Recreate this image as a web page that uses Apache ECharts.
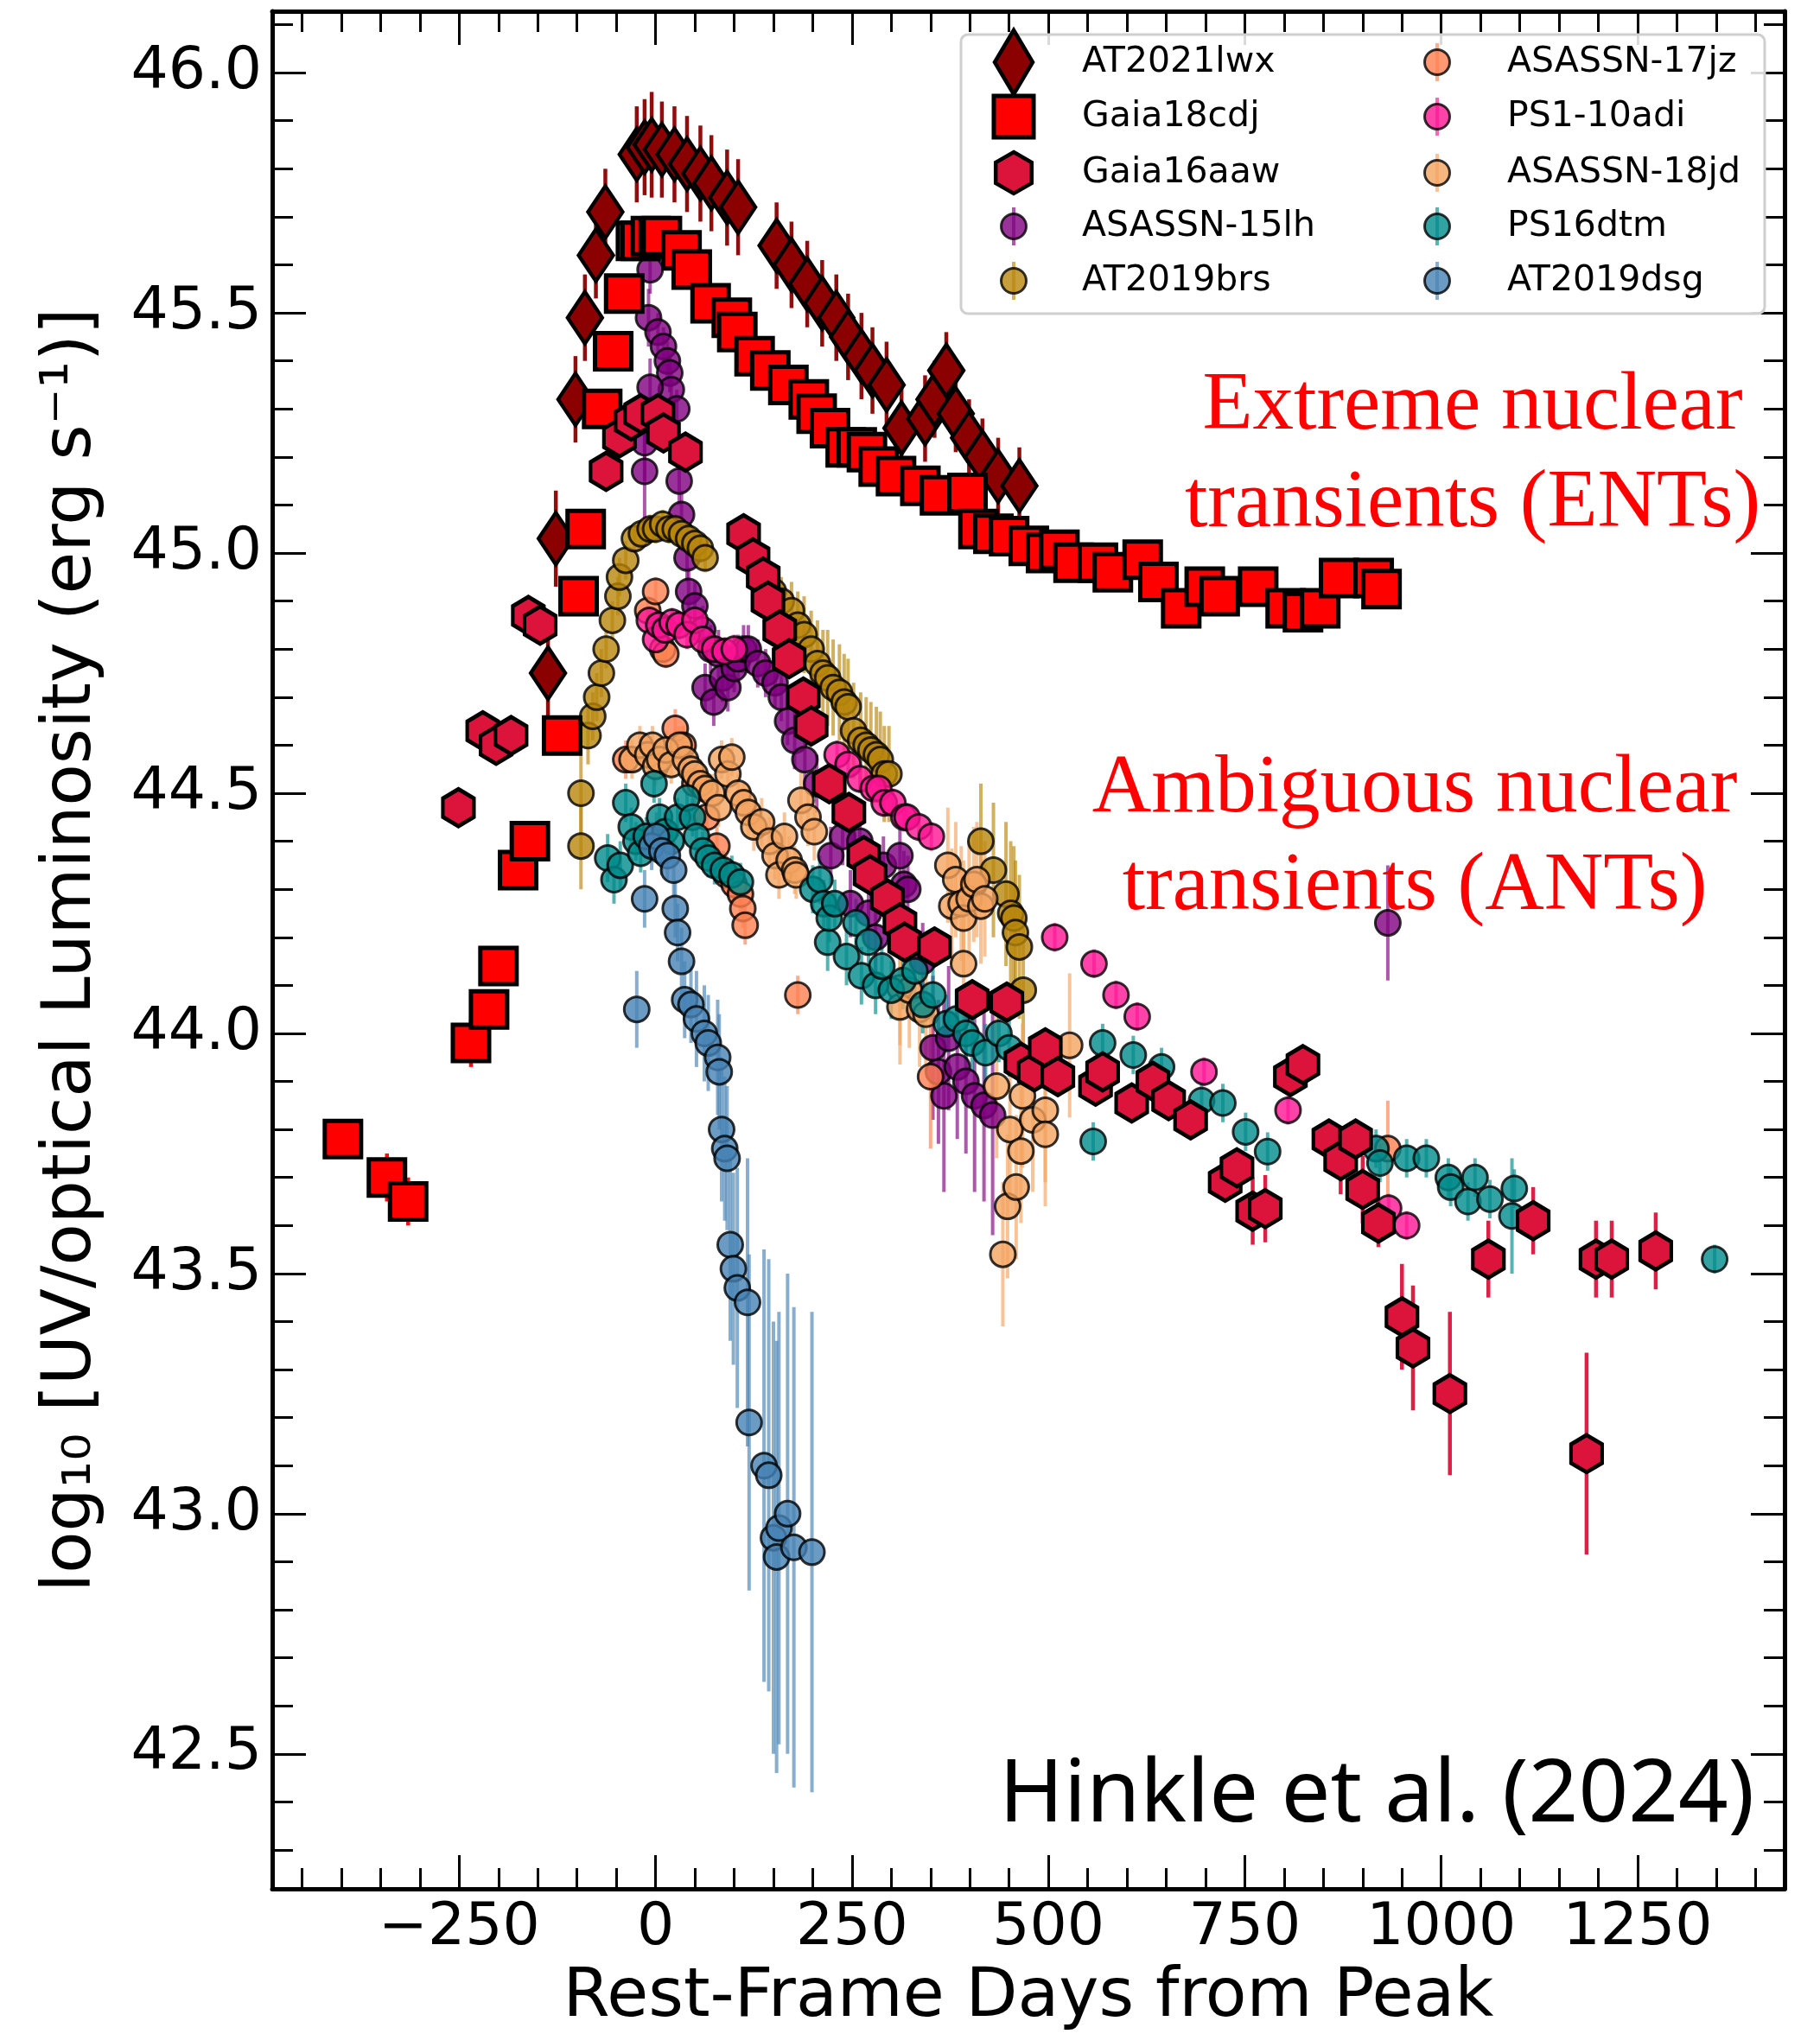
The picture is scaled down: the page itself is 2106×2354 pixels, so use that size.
<!DOCTYPE html>
<html><head><meta charset="utf-8">
<script src="https://cdn.jsdelivr.net/npm/echarts@6/dist/echarts.min.js"></script>
<style>html,body{margin:0;padding:0;background:#fff}#c{width:2106px;height:2354px}</style>
</head><body><div id="c"></div>
<script>
// ---- data: [rest-frame day, log10 L, error] ----
const AT2021lwx = [
[-137,44.75,0.09],[-127,45.03,0.10],[-102,45.32,0.09],[-90,45.49,0.09],[-76,45.62,0.09],[-64,45.71,0.09],
[-24,45.83,0.10],[-14,45.845,0.10],[-5,45.85,0.11],[8,45.84,0.10],[24,45.83,0.10],[40,45.81,0.10],[57,45.79,0.10],
[71,45.77,0.10],[91,45.74,0.10],[105,45.72,0.10],[154,45.64,0.09],[173,45.60,0.09],[193,45.56,0.09],[212,45.52,0.09],
[230,45.49,0.09],[245,45.45,0.09],[262,45.41,0.09],[276,45.38,0.09],[294,45.35,0.09],[313,45.26,0.09],[343,45.28,0.09],
[355,45.32,0.08],[370,45.38,0.08],[382,45.29,0.08],[399,45.24,0.08],[416,45.20,0.08],[436,45.16,0.08],[463,45.14,0.08]];

const Gaia18cdj = [
[-398,43.78,0.04],[-342,43.70,0.05],[-315,43.65,0.05],[-235,43.98,0.05],[-212,44.05,0.03],[-200,44.14,0.03],
[-175,44.34,0.03],[-160,44.40,0.03],[-119,44.62,0.03],[-98,44.91,0.03],[-89,45.05,0.03],[-68,45.30,0.03],
[-54,45.42,0.03],[-40,45.54,0.03],[-25,45.65,0.03],[-19,45.65,0.03],[-6,45.66,0.03],[4,45.655,0.03],[8,45.66,0.03],
[33,45.63,0.03],[46,45.59,0.03],[70,45.52,0.03],[97,45.49,0.03],[104,45.46,0.03],[126,45.41,0.03],[146,45.38,0.03],
[169,45.35,0.03],[195,45.32,0.03],[205,45.29,0.03],[222,45.26,0.03],[242,45.22,0.03],[256,45.22,0.03],[269,45.21,0.03],
[284,45.18,0.03],[306,45.16,0.03],[337,45.14,0.03],[362,45.12,0.03],[397,45.125,0.03],[411,45.05,0.03],[430,45.04,0.03],
[450,45.035,0.03],[475,45.015,0.03],[497,45.0,0.03],[514,45.007,0.03],[532,44.98,0.03],[563,44.98,0.03],[582,44.96,0.03],
[620,44.986,0.03],[640,44.94,0.03],[669,44.885,0.03],[699,44.93,0.03],[718,44.91,0.03],[767,44.93,0.03],[802,44.885,0.03],
[824,44.877,0.03],[846,44.885,0.03],[870,44.948,0.03],[914,44.948,0.03],[924,44.925,0.03]];

const Gaia16aaw = [
[-251,44.47,0.02],[-220,44.63,0.02],[-203,44.60,0.02],[-184,44.62,0.02],[-162,44.87,0.02],[-147,44.85,0.02],
[-63,45.17,0.02],[-46,45.24,0.02],[-31,45.275,0.02],[-19,45.29,0.02],[3,45.29,0.02],[10,45.25,0.02],[38,45.21,0.02],
[112,45.04,0.02],[124,44.99,0.02],[137,44.95,0.02],[143,44.90,0.02],[158,44.84,0.02],[170,44.78,0.02],[188,44.70,0.02],
[198,44.64,0.02],[221,44.52,0.02],[246,44.46,0.02],[265,44.37,0.02],[273,44.33,0.02],[295,44.28,0.02],[311,44.23,0.02],
[317,44.19,0.02],[355,44.18,0.02],[403,44.07,0.02],[447,44.065,0.02],[465,43.94,0.03],[482,43.92,0.03],[496,43.97,0.03],
[512,43.91,0.03],[560,43.89,0.03],[569,43.92,0.03],[606,43.855,0.03],[633,43.90,0.03],[653,43.86,0.03],[681,43.82,0.03],
[725,43.69,0.03],[740,43.72,0.03],[760,43.63,0.07],[776,43.635,0.07],[808,43.91,0.03],[824,43.935,0.03],[857,43.78,0.04],
[872,43.735,0.07],[891,43.78,0.04],[900,43.675,0.07],[920,43.605,0.05],[950,43.41,0.11],[964,43.345,0.13],
[1011,43.25,0.17],[1060,43.53,0.08],[1117,43.61,0.07],[1185,43.125,0.21],[1197,43.53,0.08],[1217,43.53,0.08],[1273,43.547,0.08]];

const ASASSN_15lh = [
[-7,45.59,0.05],[-9,45.49,0.06],[3,45.46,0.04],[10,45.43,0.04],[15,45.40,0.04],[18,45.375,0.04],[20,45.34,0.04],
[-7,45.345,0.06],[27,45.30,0.04],[-14,45.23,0.08],[-14,45.17,0.12],[30,45.15,0.05],[33,45.08,0.05],[40,44.99,0.05],
[42,44.92,0.05],[50,44.89,0.05],[60,44.84,0.05],[63,44.72,0.05],[70,44.80,0.05],[74,44.69,0.05],[80,44.79,0.05],
[85,44.74,0.05],[92,44.72,0.05],[100,44.76,0.05],[105,44.78,0.05],[112,44.80,0.05],[118,44.80,0.05],[130,44.77,0.05],
[140,44.75,0.05],[152,44.73,0.05],[160,44.70,0.05],[168,44.65,0.05],[177,44.61,0.06],[190,44.57,0.06],[205,44.52,0.06],
[223,44.37,0.06],[238,44.41,0.06],[248,44.27,0.07],[260,44.40,0.07],[271,44.25,0.07],[280,44.20,0.08],[290,44.35,0.06],
[311,44.37,0.06],[316,44.31,0.07],[321,44.30,0.07],[340,44.15,0.08],[353,43.97,0.15],[360,43.92,0.15],[367,43.87,0.2],
[373,43.99,0.15],[384,43.93,0.15],[395,43.90,0.15],[406,43.87,0.2],[418,43.85,0.2],[429,43.83,0.25],[932,44.23,0.12]];

const AT2019brs = [
[-95,44.39,0.09],[-95,44.50,0.09],[-86,44.62,0.06],[-80,44.66,0.05],[-75,44.70,0.05],[-69,44.75,0.05],[-63,44.80,0.04],
[-55,44.86,0.04],[-48,44.91,0.04],[-46,44.95,0.04],[-38,44.985,0.04],[-27,45.03,0.03],[-18,45.04,0.03],[-7,45.05,0.03],
[0,45.05,0.03],[9,45.06,0.03],[17,45.05,0.03],[25,45.05,0.03],[33,45.04,0.03],[42,45.03,0.03],[50,45.02,0.03],
[57,45.01,0.03],[63,44.99,0.03],[150,44.92,0.05],[160,44.90,0.05],[173,44.88,0.06],[181,44.85,0.07],[189,44.83,0.08],
[198,44.80,0.08],[206,44.77,0.09],[213,44.75,0.09],[219,44.74,0.1],[226,44.72,0.1],[234,44.71,0.1],[240,44.69,0.1],
[245,44.68,0.1],[252,44.63,0.1],[261,44.61,0.1],[268,44.60,0.1],[274,44.59,0.1],[281,44.58,0.1],[286,44.57,0.1],
[291,44.54,0.1],[297,44.54,0.1],[414,44.40,0.12],[430,44.34,0.14],[446,44.29,0.15],[452,44.25,0.15],[456,44.24,0.15],
[458,44.21,0.15],[463,44.18,0.15],[468,44.09,0.15]];

const ASASSN_17jz = [
[-38,44.57,0.04],[-10,44.88,0.03],[0,44.92,0.03],[9,44.80,0.03],[13,44.79,0.03],[25,44.635,0.04],[35,44.60,0.04],
[50,44.52,0.04],[65,44.45,0.04],[78,44.39,0.04],[90,44.33,0.04],[100,44.31,0.04],[108,44.29,0.04],[111,44.26,0.04],
[114,44.225,0.04],[181,44.08,0.04],[350,43.91,0.15],[932,43.76,0.1]];

const PS1_10adi = [
[-8,44.86,0.03],[0,44.82,0.03],[4,44.85,0.03],[12,44.84,0.03],[21,44.856,0.03],[30,44.85,0.03],[40,44.83,0.03],
[50,44.86,0.03],[60,44.82,0.03],[75,44.80,0.03],[88,44.795,0.03],[100,44.80,0.03],[231,44.58,0.03],[245,44.56,0.03],
[260,44.53,0.03],[277,44.51,0.03],[284,44.51,0.03],[291,44.48,0.03],[302,44.48,0.03],[316,44.45,0.03],[320,44.45,0.03],
[335,44.43,0.03],[351,44.41,0.03],[508,44.20,0.03],[558,44.145,0.03],[586,44.08,0.03],[613,44.035,0.03],[698,43.92,0.03],
[805,43.84,0.03],[933,43.636,0.03],[956,43.60,0.03]];

const ASASSN_18jd = [
[-30,44.57,0.04],[-20,44.60,0.04],[-10,44.58,0.04],[-4,44.60,0.04],[0,44.556,0.04],[5,44.57,0.04],[13,44.59,0.04],
[20,44.56,0.04],[30,44.60,0.04],[38,44.57,0.04],[45,44.55,0.04],[50,44.54,0.04],[57,44.52,0.04],[63,44.51,0.04],
[72,44.50,0.04],[80,44.47,0.04],[84,44.57,0.04],[92,44.54,0.04],[97,44.575,0.04],[105,44.50,0.04],[112,44.48,0.04],
[118,44.46,0.05],[125,44.43,0.05],[135,44.44,0.05],[145,44.40,0.05],[152,44.37,0.05],[157,44.33,0.05],[164,44.41,0.05],
[170,44.36,0.05],[177,44.34,0.05],[179,44.33,0.05],[185,44.485,0.06],[194,44.45,0.06],[202,44.42,0.06],[311,44.095,0.12],
[311,44.055,0.12],[323,44.09,0.12],[336,44.05,0.12],[344,44.04,0.12],[372,44.35,0.12],[377,44.265,0.12],[382,44.32,0.12],
[389,44.27,0.12],[392,44.24,0.12],[399,44.28,0.12],[405,44.31,0.12],[409,44.32,0.12],[414,44.265,0.12],[419,44.28,0.12],
[392,44.145,0.15],[434,43.89,0.15],[442,43.54,0.15],[448,43.64,0.15],[451,43.80,0.15],[459,43.68,0.15],[465,43.755,0.15],
[467,43.87,0.15],[480,43.82,0.15],[496,43.84,0.15],[496,43.79,0.15],[527,43.975,0.15]];

const PS16dtm = [
[-61,44.365,0.05],[-53,44.32,0.05],[-45,44.35,0.05],[-38,44.48,0.04],[-31,44.43,0.04],[-25,44.40,0.04],[-19,44.375,0.04],
[-12,44.41,0.04],[-2,44.52,0.04],[5,44.45,0.04],[12,44.42,0.04],[20,44.40,0.04],[28,44.45,0.04],[40,44.49,0.04],
[47,44.45,0.04],[52,44.41,0.04],[60,44.38,0.04],[67,44.365,0.04],[75,44.35,0.04],[86,44.34,0.04],[97,44.33,0.04],
[108,44.315,0.04],[200,44.30,0.05],[209,44.32,0.05],[214,44.27,0.05],[219,44.19,0.06],[221,44.24,0.05],[228,44.27,0.05],
[243,44.16,0.06],[255,44.23,0.05],[262,44.12,0.06],[271,44.19,0.05],[280,44.10,0.06],[288,44.14,0.06],[300,44.09,0.06],
[315,44.11,0.06],[330,44.13,0.06],[340,44.06,0.06],[353,44.08,0.06],[370,44.02,0.06],[383,44.03,0.06],[395,44.00,0.06],
[403,43.98,0.06],[420,43.96,0.06],[437,44.00,0.06],[450,43.97,0.06],[557,43.775,0.04],[569,43.98,0.04],[608,43.955,0.04],
[644,43.93,0.04],[695,43.86,0.04],[722,43.855,0.04],[751,43.795,0.04],[779,43.754,0.04],[917,43.76,0.04],[922,43.73,0.04],
[956,43.74,0.04],[981,43.74,0.04],[1009,43.70,0.04],[1012,43.68,0.04],[1034,43.65,0.04],[1043,43.70,0.04],[1062,43.655,0.04],
[1090,43.62,0.12],[1093,43.677,0.04],[1348,43.53,0.03]];

const AT2019dsg = [
[-24,44.05,0.08],[-14,44.28,0.06],[-5,44.39,0.05],[1,44.41,0.05],[8,44.38,0.05],[15,44.37,0.05],[23,44.34,0.06],
[25,44.26,0.06],[28,44.21,0.06],[33,44.15,0.07],[37,44.07,0.08],[45,44.06,0.08],[52,44.03,0.1],[62,44.00,0.1],
[67,43.98,0.1],[79,43.95,0.12],[81,43.92,0.12],[84,43.80,0.15],[88,43.76,0.15],[91,43.74,0.15],[95,43.56,0.2],
[99,43.51,0.2],[104,43.47,0.25],[117,43.44,0.3],[119,43.19,0.35],[138,43.10,0.45],[144,43.08,0.45],[150,42.95,0.45],
[154,42.91,0.45],[157,42.97,0.45],[168,43.00,0.5],[176,42.93,0.5],[199,42.92,0.5]];

const xMajorTicks = [-250,0,250,500,750,1000,1250];
const yMajorTicks = [42.5,43.0,43.5,44.0,44.5,45.0,45.5,46.0];
const X_MIN = -488, X_MAX = 1437, Y_MIN = 42.219, Y_MAX = 46.128;

// ---- styles ----
const HEX = 'path://M0,-1L0.866,-0.5L0.866,0.5L0,1L-0.866,0.5L-0.866,-0.5Z';
const circleSeries = [
  {name:'ASASSN-15lh', data:ASASSN_15lh, color:'#800080'},
  {name:'AT2019brs',   data:AT2019brs,   color:'#B8860B'},
  {name:'ASASSN-17jz', data:ASASSN_17jz, color:'#FF7F50'},
  {name:'PS1-10adi',   data:PS1_10adi,   color:'#FF1493'},
  {name:'ASASSN-18jd', data:ASASSN_18jd, color:'#F4A460'},
  {name:'PS16dtm',     data:PS16dtm,     color:'#008B8B'},
  {name:'AT2019dsg',   data:AT2019dsg,   color:'#4682B4'}
];
const entSeries = [
  {name:'AT2021lwx', data:AT2021lwx, color:'#8B0000', bar:'#8B0000', symbol:'diamond', size:[40,60], bw:4.5},
  {name:'Gaia18cdj', data:Gaia18cdj, color:'#FF0000', bar:'#FF0000', symbol:'rect', size:[42,42], bw:5},
  {name:'Gaia16aaw', data:Gaia16aaw, color:'#DC143C', bar:'#DC143C', symbol:HEX, size:[36,43], bw:4.5}
];

function errSeries(name, data, color, width, opacity, z) {
  return {
    type:'custom', name:name, silent:true, z:z, clip:true,
    data: data.map(p => [p[0], p[1]-p[2], p[1]+p[2]]),
    encode:{x:0, y:[1,2]},
    renderItem:(params, api) => {
      const a = api.coord([api.value(0), api.value(1)]);
      const b = api.coord([api.value(0), api.value(2)]);
      return {type:'line', shape:{x1:a[0],y1:a[1],x2:b[0],y2:b[1]},
              style:{stroke:color, lineWidth:width, opacity:opacity}};
    }
  };
}

const series = [];
let z = 2;
circleSeries.forEach(s => {
  series.push(errSeries(s.name, s.data, s.color, 4, 0.65, z));
  series.push({type:'scatter', name:s.name, z:z, data:s.data.map(p=>[p[0],p[1]]),
    symbol:'circle', symbolSize:29,
    itemStyle:{color:s.color, borderColor:'#000', borderWidth:3, opacity:0.8}});
});
z = 3;
entSeries.forEach(s => {
  series.push(errSeries(s.name, s.data, s.bar, 4.5, 0.95, z));
  series.push({type:'scatter', name:s.name, z:z, data:s.data.map(p=>[p[0],p[1]]),
    symbol:s.symbol, symbolSize:s.size,
    itemStyle:{color:s.color, borderColor:'#000', borderWidth:s.bw, opacity:1}});
  z += 1;
});

function range(a, b, step) { const r=[]; for (let v=a; v<=b+1e-9; v+=step) r.push(Math.round(v*1000)/1000); return r; }
const xMinor = range(-450, 1400, 50).filter(v => !xMajorTicks.includes(v));
const yMinor = range(42.3, 46.1, 0.1).filter(v => !yMajorTicks.some(t => Math.abs(t-v)<1e-6));

const FONT = 'DejaVu Sans';
function tickAxis(pos, vals, len, extra) {
  return Object.assign({
    type:'value', position:pos, gridIndex:0,
    splitLine:{show:false},
    axisLine:{show:false, onZero:false},
    axisTick:{show:true, inside:true, length:len, customValues:vals, lineStyle:{color:'#000', width:3}},
    axisLabel:{show:false}
  }, extra);
}
const xr = {min:X_MIN, max:X_MAX}, yr = {min:Y_MIN, max:Y_MAX};
const frameLine = {show:true, onZero:false, lineStyle:{color:'#000', width:5}};

const option = {
  animation:false,
  backgroundColor:'#fff',
  grid:{left:315, right:41, top:13, bottom:168, containLabel:false, outerBoundsMode:'none'},
  xAxis:[
    tickAxis('bottom', xMajorTicks, 39, Object.assign({}, xr, {
      axisLine:frameLine,
      axisLabel:{show:true, customValues:xMajorTicks, fontFamily:FONT, fontSize:68, color:'#000', margin:12,
        formatter:v => (v<0 ? '\u2212'+Math.abs(v) : String(v))},
      name:'Rest-Frame Days from Peak', nameLocation:'middle', nameGap:88,
      nameTextStyle:{fontFamily:FONT, fontSize:78, color:'#000'}
    })),
    tickAxis('bottom', xMinor, 24, Object.assign({}, xr)),
    tickAxis('top', xMajorTicks, 39, Object.assign({}, xr, {axisLine:frameLine})),
    tickAxis('top', xMinor, 24, Object.assign({}, xr))
  ],
  yAxis:[
    tickAxis('left', yMajorTicks, 39, Object.assign({}, yr, {
      axisLine:frameLine,
      axisLabel:{show:true, customValues:yMajorTicks, fontFamily:FONT, fontSize:68, color:'#000', margin:12,
        formatter:v => v.toFixed(1)},
      name:'log\u2081\u2080 [UV/optical Luminosity (erg s\u207B\u00B9)]', nameLocation:'middle', nameGap:192, nameRotate:90,
      nameTextStyle:{fontFamily:FONT, fontSize:79, color:'#000'}
    })),
    tickAxis('left', yMinor, 24, Object.assign({}, yr)),
    tickAxis('right', yMajorTicks, 39, Object.assign({}, yr, {axisLine:frameLine})),
    tickAxis('right', yMinor, 24, Object.assign({}, yr))
  ],
  series: series,
  graphic: []
};

// ---- legend (drawn as graphic, two columns) ----
const rowsY = [72,135,200,262,325];
const legendItems = [
  {name:'AT2021lwx', kind:'diamond', color:'#8B0000', col:0, row:0},
  {name:'Gaia18cdj', kind:'square', color:'#FF0000', col:0, row:1},
  {name:'Gaia16aaw', kind:'hex', color:'#DC143C', col:0, row:2},
  {name:'ASASSN-15lh', kind:'circle', color:'#800080', col:0, row:3},
  {name:'AT2019brs', kind:'circle', color:'#B8860B', col:0, row:4},
  {name:'ASASSN-17jz', kind:'circle', color:'#FF7F50', col:1, row:0},
  {name:'PS1-10adi', kind:'circle', color:'#FF1493', col:1, row:1},
  {name:'ASASSN-18jd', kind:'circle', color:'#F4A460', col:1, row:2},
  {name:'PS16dtm', kind:'circle', color:'#008B8B', col:1, row:3},
  {name:'AT2019dsg', kind:'circle', color:'#4682B4', col:1, row:4}
];
const G = option.graphic;
G.push({type:'rect', z:50, shape:{x:1112, y:40, width:930, height:323, r:8},
  style:{fill:'rgba(255,255,255,0.85)', stroke:'#cfcfcf', lineWidth:3}});
legendItems.forEach(it => {
  const cx = it.col===0 ? 1173 : 1663, cy = rowsY[it.row], tx = it.col===0 ? 1252 : 1744;
  if (it.kind==='diamond') {
    G.push({type:'polygon', z:51, shape:{points:[[cx,cy-37],[cx+22,cy],[cx,cy+37],[cx-22,cy]]},
      style:{fill:it.color, stroke:'#000', lineWidth:4.5}});
  } else if (it.kind==='square') {
    G.push({type:'rect', z:51, shape:{x:cx-23, y:cy-24, width:46, height:48},
      style:{fill:it.color, stroke:'#000', lineWidth:5}});
  } else if (it.kind==='hex') {
    const r=24, w=20.8;
    G.push({type:'polygon', z:51, shape:{points:[[cx,cy-r],[cx+w,cy-r/2],[cx+w,cy+r/2],[cx,cy+r],[cx-w,cy+r/2],[cx-w,cy-r/2]]},
      style:{fill:it.color, stroke:'#000', lineWidth:4.5}});
  } else {
    G.push({type:'line', z:51, shape:{x1:cx, y1:cy-22, x2:cx, y2:cy+22}, style:{stroke:it.color, lineWidth:4, opacity:0.65}});
    G.push({type:'circle', z:52, shape:{cx:cx, cy:cy, r:14.5},
      style:{fill:it.color, stroke:'#000', lineWidth:3, opacity:0.8}});
  }
  G.push({type:'text', z:53, x:tx, y:cy, style:{text:it.name, fill:'#000', fontSize:41, fontFamily:'DejaVu Sans',
    align:'left', verticalAlign:'middle'}});
});

// ---- annotations ----
[['Extreme nuclear',1704,471],['transients (ENTs)',1704,584],['Ambiguous nuclear',1637,914],['transients (ANTs)',1637,1027]]
.forEach(t => G.push({type:'text', z:60, x:t[1], y:t[2], style:{text:t[0], fill:'#FF0000', fontSize:95,
  fontFamily:'Liberation Serif', align:'center', verticalAlign:'middle'}}));
G.push({type:'text', z:60, x:2030, y:2079, style:{text:'Hinkle et al. (2024)', fill:'#000',
  fontSize:101, fontFamily:'Noto Sans', align:'right', verticalAlign:'middle'}});

const chart = echarts.init(document.getElementById('c'), null, {renderer:'canvas', width:2106, height:2354});
chart.setOption(option);
</script>
</body></html>
